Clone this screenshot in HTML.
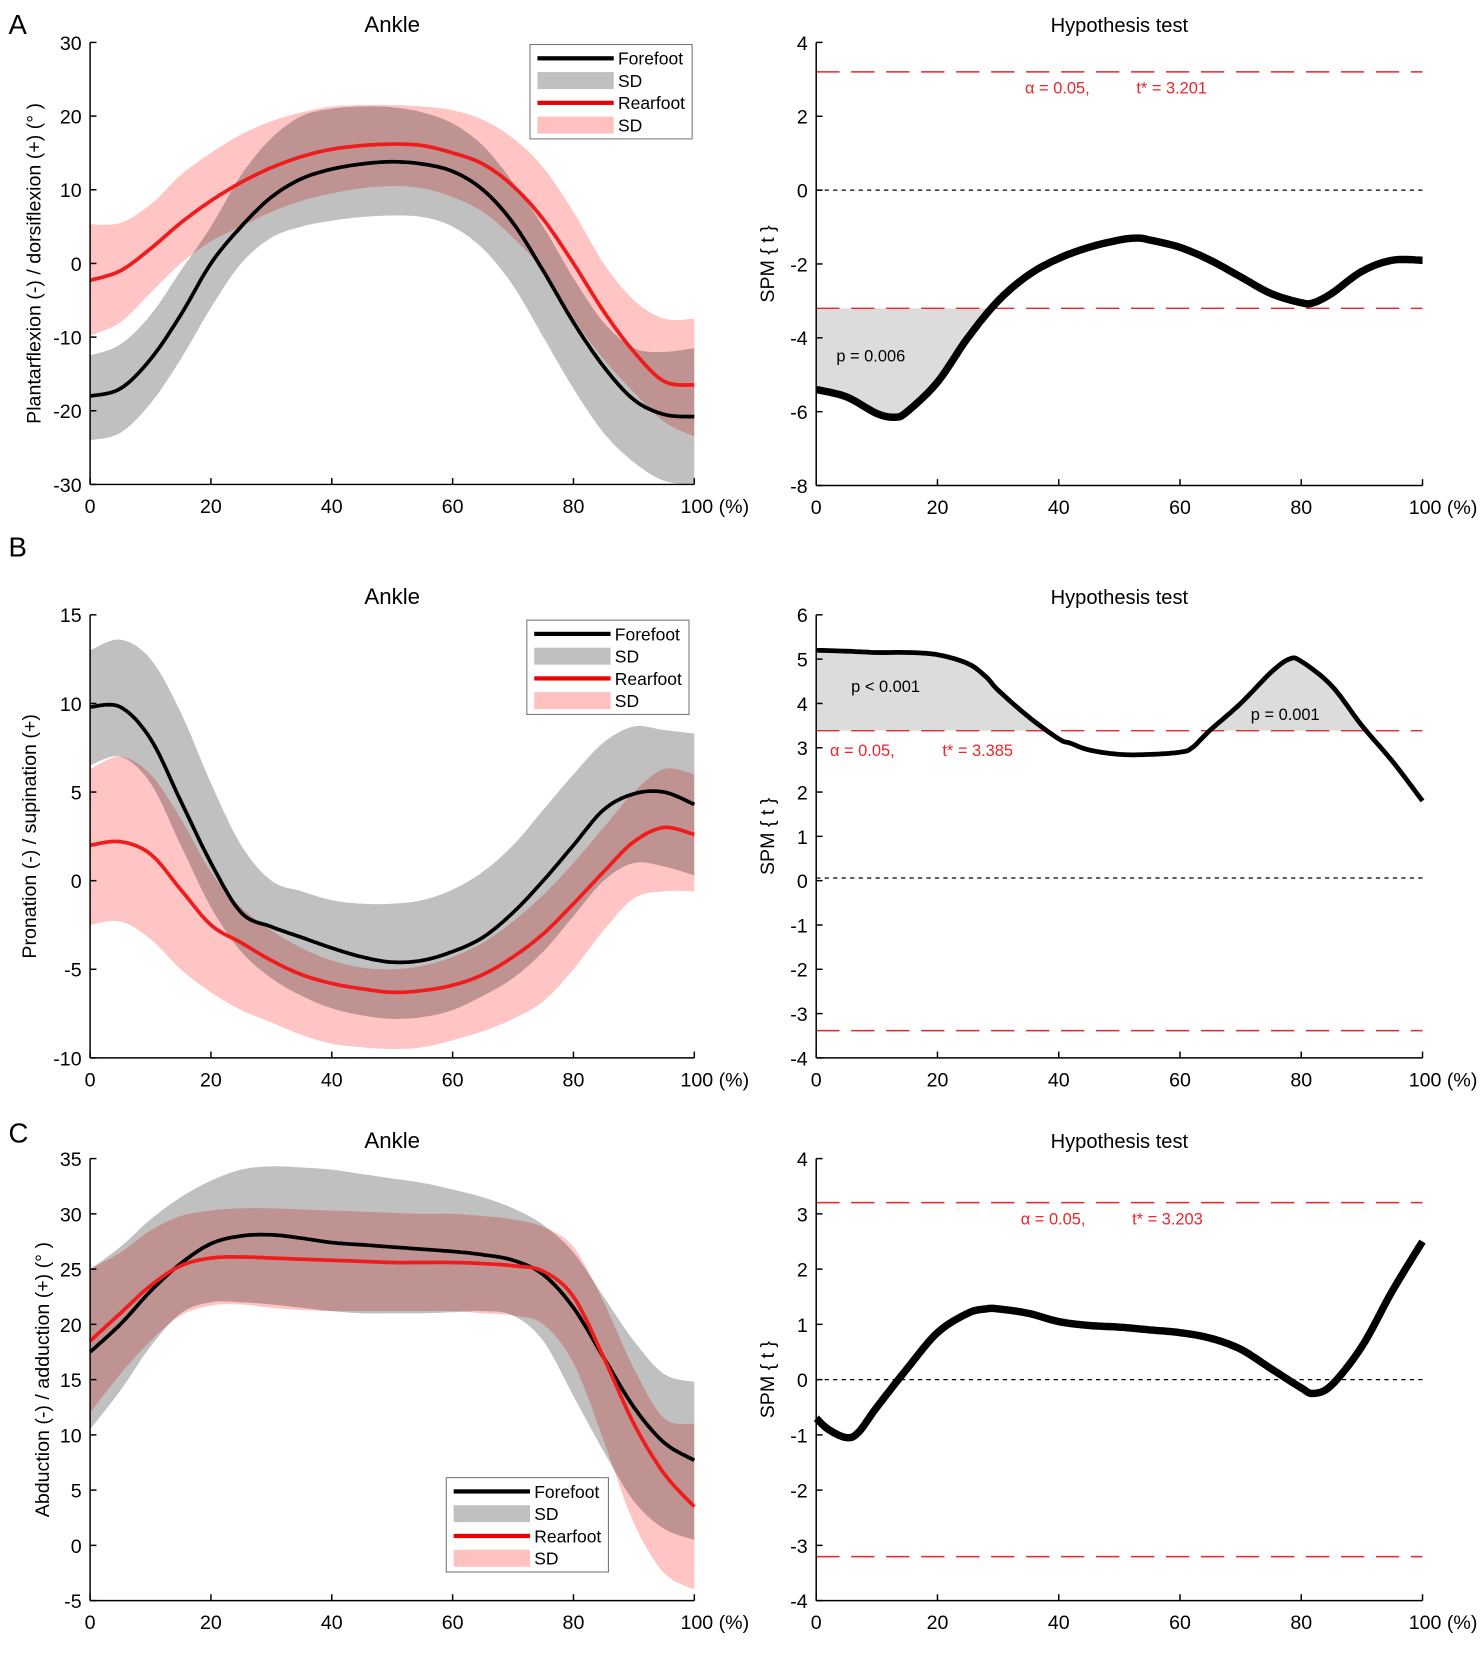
<!DOCTYPE html>
<html><head><meta charset="utf-8"><style>
html,body{margin:0;padding:0;background:#fff;}
svg{display:block;font-family:"Liberation Sans",Arial,sans-serif;}
</style></head><body>
<svg id="fig" width="1484" height="1667" viewBox="0 0 1400 1572.6" xmlns="http://www.w3.org/2000/svg"></svg>
<script>
const X = [0,5,10,15,20,25,30,35,40,45,50,55,60,65,70,75,80,85,90,95,100];
// Panel A (sagittal)
const aFore = [-18,-17,-13,-7,0,5,9,11.5,12.8,13.5,13.8,13.5,12.5,10,5.5,-1,-8,-14,-18.5,-20.5,-20.8];
const aForeUp = [-12.5,-11,-7,-1,5,12,17,20,21,21.3,21.2,20.5,19,16,11,5,-2,-8,-11.5,-12,-11.5];
const aForeLo = [-24,-23,-19,-13,-6,0,3.5,5,5.8,6.3,6.5,6.3,5,2,-3,-10,-17,-23,-27,-29.5,-30];
const aRear = [-2.3,-1,2,5.5,8.5,11,13,14.5,15.5,16,16.2,16,15,13.5,10.5,6,0,-6.5,-12,-16,-16.5];
const aRearUp = [5.3,5.5,8,12,15,17.5,19.3,20.5,21.3,21.5,21.5,21.3,20.8,19.5,17,13,7,0,-5,-7.5,-7.5];
const aRearLo = [-9.8,-8,-4,0,3,5,7,8.5,9.5,10.2,10.5,10.2,9,7,3.5,-1,-7.5,-13,-17.5,-21.5,-23.5];
const aSpmX = [0,5,10,13,15,20,25,30,35,40,45,50,53,55,60,65,70,75,80,82,85,90,95,100];
const aSpm = [-5.4,-5.6,-6.05,-6.15,-6.0,-5.2,-4,-3,-2.3,-1.85,-1.55,-1.35,-1.3,-1.35,-1.55,-1.9,-2.35,-2.8,-3.05,-3.05,-2.8,-2.2,-1.9,-1.9];
const aThr = 3.201;
// Panel B (frontal)
const bFore = [9.8,9.8,8,4.5,1,-1.8,-2.6,-3.2,-3.8,-4.3,-4.6,-4.5,-4,-3.2,-1.8,0,2,4,4.9,5,4.3];
const bForeUp = [13,13.6,12.5,9.5,5.5,2,0,-0.6,-1.1,-1.3,-1.3,-1.1,-0.5,0.5,2,4,6,7.8,8.7,8.5,8.3];
const bForeLo = [6.5,7,5.5,2,-1.5,-4,-5.5,-6.5,-7.2,-7.6,-7.8,-7.7,-7.3,-6.5,-5.5,-4,-2,0,1,0.8,0.3];
const bRear = [2,2.2,1.5,-0.5,-2.5,-3.5,-4.5,-5.3,-5.8,-6.1,-6.3,-6.2,-5.9,-5.3,-4.3,-3,-1.3,0.5,2.2,3,2.6];
const bRearUp = [6.3,7,6,3.5,0.5,-1.5,-2.8,-3.8,-4.5,-4.9,-5,-4.8,-4.3,-3.5,-2.3,-0.8,1,3,5,6.3,6];
const bRearLo = [-2.5,-2.3,-3.3,-5,-6.3,-7.3,-8,-8.7,-9.2,-9.4,-9.5,-9.4,-9,-8.5,-7.8,-6.8,-5,-2.8,-1,-0.6,-0.6];
const bSpmX = [0,5,10,15,20,25,28,30,35,40,42,45,50,55,60,62,65,70,75,78,80,85,90,95,100];
const bSpm = [5.2,5.18,5.15,5.15,5.1,4.9,4.6,4.3,3.7,3.2,3.1,2.95,2.85,2.85,2.9,3.0,3.4,4.0,4.7,5.0,4.95,4.4,3.5,2.7,1.8];
const bThr = 3.385;
// Panel C (transverse)
const cFore = [17.5,20,23,25.5,27.3,28,28.1,27.8,27.4,27.2,27,26.8,26.6,26.3,25.8,24.5,21.5,17,12.5,9.3,7.7];
const cForeUp = [25,27,29.5,31.5,33,34,34.3,34.2,34,33.6,33.2,32.8,32.2,31.5,30.5,29,26.5,22.5,18.5,15.5,14.8];
const cForeLo = [10.5,14,18,21,22,22,21.8,21.5,21.2,21,21,21,21.1,21.2,20.8,18.5,13.5,8.5,4,1.5,0.5];
const cRear = [18.5,21,23.5,25.3,26,26.1,26,25.9,25.8,25.7,25.6,25.6,25.6,25.5,25.3,24.8,22.5,17,11,6.5,3.5];
const cRearUp = [25,26.5,28.5,29.8,30.3,30.5,30.5,30.4,30.3,30.2,30.1,30,30,29.8,29.5,28.8,27,22,16,11.5,11];
const cRearLo = [12,15.5,18.5,20.8,21.7,21.8,21.5,21.3,21.2,21.2,21.2,21.2,21.2,21,20.8,20,16.5,9.5,2,-2.5,-4];
const cSpmX = [0,2,5,7,10,15,20,25,28,30,35,40,45,50,55,60,65,70,75,80,82,85,90,95,100];
const cSpm = [-0.7,-0.9,-1.05,-0.95,-0.5,0.2,0.85,1.2,1.28,1.28,1.2,1.05,0.98,0.95,0.9,0.85,0.75,0.55,0.2,-0.15,-0.25,-0.1,0.6,1.6,2.5];
const cThr = 3.203;
const xTicks = [0,20,40,60,80,100];

const NS = "http://www.w3.org/2000/svg";
const svg = document.getElementById('fig');
function el(tag, attrs, parent){ const e=document.createElementNS(NS,tag); for(const k in attrs) e.setAttribute(k,attrs[k]); (parent||svg).appendChild(e); return e; }
function txt(s, attrs, parent){ const e=el('text',attrs,parent); e.textContent=s; return e; }

function dense(xs, ys){
  const out=[];
  for(let i=0;i<xs.length-1;i++){
    const i0=Math.max(0,i-1), i3=Math.min(xs.length-1,i+2);
    for(let t=0;t<1;t+=0.1){
      const t2=t*t,t3=t2*t;
      const f=(p0,p1,p2,p3)=>0.5*((2*p1)+(-p0+p2)*t+(2*p0-5*p1+4*p2-p3)*t2+(-p0+3*p1-3*p2+p3)*t3);
      out.push([f(xs[i0],xs[i],xs[i+1],xs[i3]), f(ys[i0],ys[i],ys[i+1],ys[i3])]);
    }
  }
  out.push([xs[xs.length-1], ys[ys.length-1]]);
  return out;
}

function axes(cfg){
  const g = el('g',{});
  
  
  const sx = v => cfg.x0 + (v-0)/100*(cfg.x1-cfg.x0);
  const sy = v => cfg.y0 + (cfg.ymax - v)/(cfg.ymax-cfg.ymin)*(cfg.y1-cfg.y0);
  return {g,sx,sy};
}
function drawAxes(A,cfg){
  const {g,sx,sy}=A;
  const ax = el('g',{},g);
  
  
  el('line',{x1:cfg.x0,y1:cfg.y0,x2:cfg.x0,y2:cfg.y1,stroke:'#000','stroke-width':1.4},ax);
  el('line',{x1:cfg.x0,y1:cfg.y1,x2:cfg.x1,y2:cfg.y1,stroke:'#000','stroke-width':1.4},ax);
  cfg.yTicks.forEach(v=>{
    const y=sy(v);
    el('line',{x1:cfg.x0,y1:y,x2:cfg.x0+6,y2:y,stroke:'#000','stroke-width':1.4},ax);
    const t=txt(String(v),{x:cfg.x0-8,y:y+7,'text-anchor':'end','font-size':18.5},ax);
    
    
  });
  xTicks.forEach(v=>{
    const x=sx(v);
    el('line',{x1:x,y1:cfg.y1,x2:x,y2:cfg.y1-6,stroke:'#000','stroke-width':1.4},ax);
    const t=txt(v===100?'100 (%)':String(v),{x:v===100?x-13:x,y:cfg.y1+27,'text-anchor':v===100?'start':'middle','font-size':18.5},ax);
    
    
  });
  const ti=txt(cfg.title,{x:(cfg.x0+cfg.x1)/2,y:cfg.y0-10,'text-anchor':'middle','font-size':cfg.titleSize||21},g);
  
  
  const yl=txt(cfg.ylabel,{x:0,y:0,'text-anchor':'middle','font-size':18.5,transform:`translate(${cfg.ylx},${(cfg.y0+cfg.y1)/2}) rotate(-90)`},g);
  
  
}
function band(A,up,lo,color,name,blend){
  const pu=dense(X,up), pl=dense(X,lo).reverse();
  const d='M'+pu.concat(pl).map(p=>A.sx(p[0]).toFixed(1)+','+A.sy(p[1]).toFixed(1)).join('L')+'Z';
  const p=el('path',{d,fill:color,style:blend?'mix-blend-mode:multiply':''},A.g);
  
  
}
function line(A,xs,ys,color,w,name){
  const d='M'+dense(xs,ys).map(p=>A.sx(p[0]).toFixed(1)+','+A.sy(p[1]).toFixed(1)).join('L');
  const p=el('path',{d,fill:'none',stroke:color,'stroke-width':w,'stroke-linejoin':'round'},A.g);
  
  
}
function legend(A,x,y){
  const g=el('g',{},A.g);
  
  
  el('rect',{x,y,width:153,height:89,fill:'#fff',stroke:'#777','stroke-width':1},g);
  const items=[['Forefoot','line','#000'],['SD','rect','#c0c0c0'],['Rearfoot','line','#ee0000'],['SD','rect','#ffc0c0']];
  items.forEach((it,i)=>{
    const yy=y+13+i*21;
    if(it[1]==='line') el('rect',{x:x+7,y:yy-2,width:72,height:4,fill:it[2]},g);
    else el('rect',{x:x+7,y:yy-8,width:72,height:16,fill:it[2]},g);
    const t=txt(it[0],{x:x+83,y:yy+6,'font-size':16.5},g);
    
    
  });
}
function kinPanel(cfg,fore,foreUp,foreLo,rear,rearUp,rearLo,leg){
  const A=axes(cfg);
  band(A,foreUp,foreLo,'#c0c0c0','forefoot-sd-band',false);
  line(A,X,fore,'#000',3.5,'forefoot-mean-line');
  band(A,rearUp,rearLo,'#ffc4c4','rearfoot-sd-band',true);
  line(A,X,rear,'#ee1c1c',3.5,'rearfoot-mean-line');
  drawAxes(A,cfg);
  legend(A,leg[0],leg[1]);
}
function spmPanel(cfg,xs,ys,thr,sign,w,ann){
  const A=axes(cfg);
  const {g,sx,sy}=A;
  const pts=dense(xs,ys);
  const ty=sy(sign*thr);
  const cid='clip'+cfg.name;
  const cp=el('clipPath',{id:cid},g);
  if(sign<0) el('rect',{x:cfg.x0,y:ty,width:cfg.x1-cfg.x0,height:cfg.y1-ty},cp);
  else el('rect',{x:cfg.x0,y:cfg.y0,width:cfg.x1-cfg.x0,height:ty-cfg.y0},cp);
  const d='M'+sx(0)+','+ty+'L'+pts.map(p=>sx(p[0]).toFixed(1)+','+sy(p[1]).toFixed(1)).join('L')+'L'+sx(100)+','+ty+'Z';
  const f=el('path',{d,fill:'#dcdcdc','clip-path':`url(#${cid})`},g);
  
  
  [thr,-thr].forEach(v=>{
    const l=el('line',{x1:cfg.x0,x2:cfg.x1,y1:sy(v),y2:sy(v),stroke:'#e8262b','stroke-width':1.4,'stroke-dasharray':'22,11'},g);
    
    
  });
  const z=el('line',{x1:cfg.x0,x2:cfg.x1,y1:sy(cfg.zero||0),y2:sy(cfg.zero||0),stroke:'#000','stroke-width':1.2,'stroke-dasharray':'4,4'},g);
  
  
  line(A,xs,ys,'#000',w,'spm-t-curve');
  drawAxes(A,cfg);
  ann.forEach(a=>{
    const t=txt(a[0],{x:a[1],y:a[2],'font-size':15.5,fill:a[3]||'#000'},g);
    
    
  });
}
const yl1='Plantarflexion (-) / dorsiflexion (+) (° )';
kinPanel({name:'panel-a-ankle',x0:85,x1:655,y0:40,y1:457,ymin:-30,ymax:30,yTicks:[30,20,10,0,-10,-20,-30],title:'Ankle',ylabel:yl1,ylx:38},
  aFore,aForeUp,aForeLo,aRear,aRearUp,aRearLo,[500,42]);
spmPanel({name:'panel-a-spm',x0:770,x1:1342,y0:40,y1:458,ymin:-8,ymax:4,yTicks:[4,2,0,-2,-4,-6,-8],title:'Hypothesis test',titleSize:19,ylabel:'SPM { t }',ylx:730},
  aSpmX,aSpm,aThr,-1,7,[['α = 0.05,',967,88,'#e8262b','alpha-label'],['t* = 3.201',1072,88,'#e8262b','threshold-label'],['p  = 0.006',789,341,'#000','p-value-label']]);
kinPanel({name:'panel-b-ankle',x0:85,x1:655,y0:580,y1:998,ymin:-10,ymax:15,yTicks:[15,10,5,0,-5,-10],title:'Ankle',ylabel:'Pronation (-) / supination (+)',ylx:34},
  bFore,bForeUp,bForeLo,bRear,bRearUp,bRearLo,[497,585]);
spmPanel({name:'panel-b-spm',x0:770,x1:1342,y0:580,y1:998,ymin:-4,ymax:6,yTicks:[6,5,4,3,2,1,0,-1,-2,-3,-4],title:'Hypothesis test',titleSize:19,ylabel:'SPM { t }',ylx:730,zero:0.06},
  bSpmX,bSpm,bThr,1,4.5,[['p  < 0.001',803,653,'#000','p-value-label'],['p  = 0.001',1180,679,'#000','p-value-label'],['α = 0.05,',783,713,'#e8262b','alpha-label'],['t* = 3.385',889,713,'#e8262b','threshold-label']]);
kinPanel({name:'panel-c-ankle',x0:85,x1:655,y0:1093,y1:1510,ymin:-5,ymax:35,yTicks:[35,30,25,20,15,10,5,0,-5],title:'Ankle',ylabel:'Abduction (-) / adduction (+) (° )',ylx:46},
  cFore,cForeUp,cForeLo,cRear,cRearUp,cRearLo,[421,1394]);
spmPanel({name:'panel-c-spm',x0:770,x1:1342,y0:1093,y1:1510,ymin:-4,ymax:4,yTicks:[4,3,2,1,0,-1,-2,-3,-4],title:'Hypothesis test',titleSize:19,ylabel:'SPM { t }',ylx:730},
  cSpmX,cSpm,cThr,1,7,[['α = 0.05,',963,1155,'#e8262b','alpha-label'],['t* = 3.203',1068,1155,'#e8262b','threshold-label']]);
[['A',8,32],['B',8,525],['C',8,1078]].forEach(p=>{
  const t=txt(p[0],{x:p[1],y:p[2],'font-size':26});
  
  
});
</script>
</body></html>
